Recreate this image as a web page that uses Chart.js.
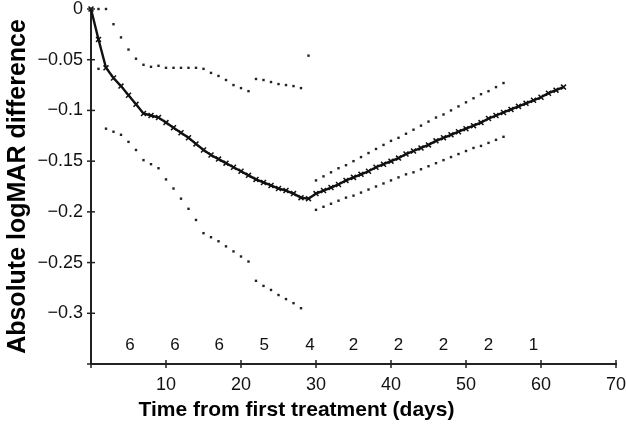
<!DOCTYPE html>
<html><head><meta charset="utf-8">
<script src="https://cdn.jsdelivr.net/npm/chart.js@4/dist/chart.umd.min.js"></script>
<style>html,body{margin:0;padding:0;background:#fff}#wrap{width:626px;height:425px}</style>
</head><body><div id="wrap"><canvas id="c" width="626" height="425"></canvas></div>
<script>
const days = [0,1,2,3,4,5,6,7,8,9,10,11,12,13,14,15,16,17,18,19,20,21,22,23,24,25,26,27,28,29,30,31,32,33,34,35,36,37,38,39,40,41,42,43,44,45,46,47,48,49,50,51,52,53,54,55,56,57,58,59,60,61,62,63];
const meanDiff = [0,-0.030,-0.058,-0.068,-0.076,-0.085,-0.094,-0.103,-0.105,-0.107,
  -0.112,-0.117,-0.122,-0.127,-0.133,-0.139,-0.144,-0.148,-0.152,-0.156,
  -0.160,-0.164,-0.168,-0.171,-0.174,-0.177,-0.179,-0.182,-0.186,-0.187,
  -0.182,-0.179,-0.176,-0.173,-0.169,-0.166,-0.163,-0.160,-0.156,-0.153,
  -0.150,-0.147,-0.143,-0.140,-0.137,-0.134,-0.130,-0.127,-0.124,-0.121,
  -0.118,-0.115,-0.112,-0.108,-0.105,-0.102,-0.099,-0.096,-0.093,-0.090,
  -0.087,-0.083,-0.080,-0.077];
const boundDays = [0,1,2,3,4,5,6,7,8,9,10,11,12,13,14,15,16,17,18,19,20,21,22,23,24,25,26,27,28,29,30,31,32,33,34,35,36,37,38,39,40,41,42,43,44,45,46,47,48,49,50,51,52,53,54,55];
const upperBound = [0,0,0,-0.015,-0.028,-0.040,-0.049,-0.055,-0.057,-0.056,
  -0.058,-0.058,-0.058,-0.058,-0.058,-0.059,-0.063,-0.066,-0.070,-0.075,
  -0.078,-0.081,-0.069,-0.070,-0.072,-0.074,-0.075,-0.076,-0.078,-0.046,
  -0.169,-0.165,-0.161,-0.157,-0.154,-0.150,-0.146,-0.142,-0.138,-0.134,
  -0.130,-0.127,-0.123,-0.119,-0.115,-0.111,-0.107,-0.104,-0.100,-0.096,
  -0.092,-0.088,-0.084,-0.081,-0.077,-0.073];
const lowerBound = [0,-0.059,-0.118,-0.121,-0.124,-0.131,-0.139,-0.149,-0.153,-0.157,
  -0.168,-0.177,-0.187,-0.197,-0.208,-0.221,-0.225,-0.229,-0.234,-0.239,
  -0.244,-0.249,-0.268,-0.273,-0.277,-0.282,-0.286,-0.290,-0.295,null,
  -0.198,-0.195,-0.192,-0.189,-0.186,-0.184,-0.181,-0.178,-0.175,-0.172,
  -0.169,-0.166,-0.163,-0.161,-0.158,-0.155,-0.152,-0.149,-0.146,-0.143,
  -0.140,-0.137,-0.135,-0.132,-0.129,-0.126];
const countDays = [5.2,11.2,17.1,23.1,29.2,35,41,47,53,59];
const counts = ['6','6','6','5','4','2','2','2','2','1'];
const countLevel = -0.332;
const xTickValues = [0,10,20,30,40,50,60,70];
const yTickValues = [0,-0.05,-0.1,-0.15,-0.2,-0.25,-0.3,-0.35];
const xTitle = 'Time from first treatment (days)';
const yTitle = 'Absolute logMAR difference';

const FONT = '"Liberation Sans", Arial, Helvetica, sans-serif';
const toPts = (xs, ys) => xs.map((x, i) => ({x: x, y: ys[i]})).filter(p => p.y !== null);

const extras = {
  id: 'extras',
  afterDraw(chart) {
    const {ctx, chartArea: a, scales: {x, y}} = chart;
    ctx.save();
    ctx.strokeStyle = '#222';
    ctx.lineWidth = 1.5;
    xTickValues.forEach(v => {
      const px = x.getPixelForValue(v);
      ctx.beginPath(); ctx.moveTo(px, a.bottom - 4); ctx.lineTo(px, a.bottom + 4); ctx.stroke();
    });
    yTickValues.forEach(v => {
      const py = y.getPixelForValue(v);
      ctx.beginPath(); ctx.moveTo(a.left - 4, py); ctx.lineTo(a.left + 4, py); ctx.stroke();
    });
    ctx.fillStyle = '#111';
    ctx.font = '17px ' + FONT;
    ctx.textAlign = 'center';
    ctx.textBaseline = 'middle';
    countDays.forEach((d, i) => {
      ctx.fillText(counts[i], x.getPixelForValue(d), y.getPixelForValue(countLevel));
    });
    ctx.font = 'bold 21px ' + FONT;
    ctx.fillStyle = '#000';
    ctx.fillText(xTitle, x.getPixelForValue(27.4), 410);
    ctx.restore();
  }
};

new Chart(document.getElementById('c'), {
  type: 'scatter',
  data: {
    datasets: [
      {
        label: 'Mean', data: toPts(days, meanDiff), showLine: true,
        borderColor: '#111', borderWidth: 2.4, tension: 0,
        pointStyle: 'crossRot', pointRadius: 3.5, pointBorderWidth: 1.5,
        pointBorderColor: '#111', pointBackgroundColor: '#111', clip: false
      },
      {
        label: 'Upper', data: toPts(boundDays, upperBound), showLine: false,
        pointStyle: 'rect', pointRadius: 1.7, pointBorderWidth: 0,
        pointBackgroundColor: '#222', clip: false
      },
      {
        label: 'Lower', data: toPts(boundDays, lowerBound), showLine: false,
        pointStyle: 'rect', pointRadius: 1.7, pointBorderWidth: 0,
        pointBackgroundColor: '#222', clip: false
      }
    ]
  },
  options: {
    responsive: false, animation: false, devicePixelRatio: 1,
    layout: {padding: {top: 9, right: 10, left: 0, bottom: 0}},
    plugins: {legend: {display: false}, tooltip: {enabled: false}},
    scales: {
      x: {
        type: 'linear', min: 0, max: 70,
        afterFit(s) { s.height = 61; s.paddingLeft = 0; s.paddingRight = 0; },
        grid: {display: false, drawTicks: false},
        border: {display: true, color: '#222', width: 2},
        ticks: {
          stepSize: 10, padding: 10, color: '#111', font: {family: FONT, size: 18},
          callback: v => (v === 0 ? '' : String(v))
        },
        title: {display: false}
      },
      y: {
        type: 'linear', min: -0.35, max: 0,
        afterFit(s) { s.width = 91; s.paddingTop = 0; s.paddingBottom = 0; },
        grid: {display: false, drawTicks: false},
        border: {display: true, color: '#222', width: 2},
        ticks: {
          stepSize: 0.05, padding: 8, color: '#111', font: {family: FONT, size: 18},
          callback: v => {
            const r = Math.round(v * 100) / 100;
            if (r <= -0.35) return '';
            if (r === 0) return '0';
            return '\u2212' + String(Math.abs(r));
          }
        },
        title: {
          display: true, text: yTitle, color: '#000',
          font: {family: FONT, size: 25, weight: 'bold'}, padding: {top: 3, bottom: 0}
        }
      }
    }
  },
  plugins: [extras]
});
</script>
</body></html>
